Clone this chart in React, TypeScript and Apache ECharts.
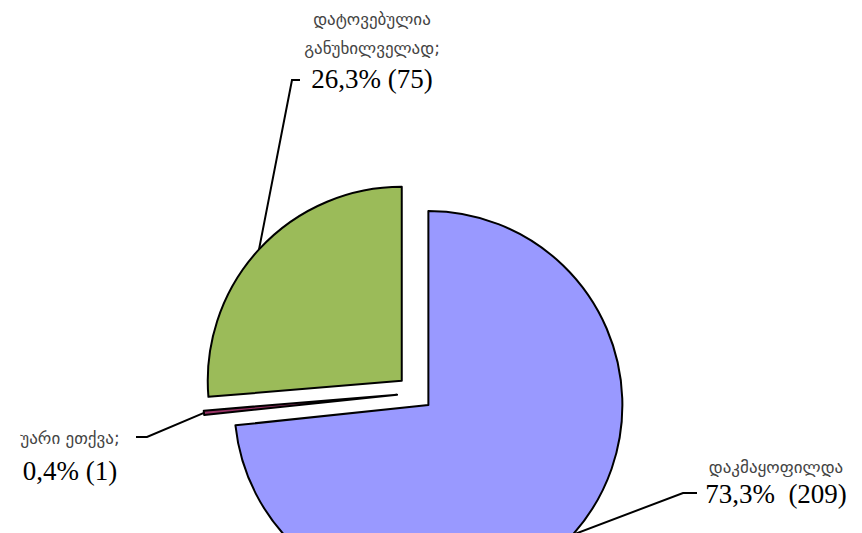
import React, { useEffect, useRef } from 'react';
import * as echarts from 'echarts';

// ---- data ----
const categories = ['დაკმაყოფილდა', 'უარი ეთქვა;', 'დატოვებულია\nგანუხილველად;'];
const counts = [209, 1, 75];
const valueGaps = ['  ', ' ', ' '];

// ---- styles / layout ----
const colors = ['#9999FF', '#993366', '#9BBB59'];
const pieCenter = [415, 393];
const pieRadius = 194;
const explode = 18;
const labelPlacement = [
  { x: 776, y: 481, bend: [683, 493], end: [697, 493], nLH: 26, vLH: 28 },
  { x: 70, y: 455, bend: [147, 437], end: [136, 437], nLH: 32, vLH: 34 },
  { x: 372, y: 50, bend: [292, 80], end: [300, 80], nLH: 29, vLH: 34 },
];

const total = counts.reduce((a, b) => a + b, 0);
const pct = (v: number) => (Math.round((v / total) * 1000) / 10).toFixed(1).replace('.', ',');

export default function App() {
  const ref = useRef<HTMLDivElement>(null);
  useEffect(() => {
    if (!ref.current) return;
    const chart = echarts.init(ref.current, undefined, { renderer: 'svg' });

    let cum = 0;
    const series = counts.map((v, i) => {
      const midFrac = (cum + v / 2) / total;
      cum += v;
      const theta = ((90 - midFrac * 360) * Math.PI) / 180;
      const cx = pieCenter[0] + explode * Math.cos(theta);
      const cy = pieCenter[1] - explode * Math.sin(theta);
      const lp = labelPlacement[i];
      const data = counts.map((w, j) =>
        j === i
          ? {
              value: w,
              name: categories[j],
              itemStyle: { color: colors[j], borderColor: '#000', borderWidth: 2 },
              label: {
                show: true,
                formatter: () =>
                  categories[j]
                    .split('\n')
                    .map((s) => `{n|${s}}`)
                    .join('\n') + `\n{v|${pct(w)}%${valueGaps[j]}(${w})}`,
                rich: {
                  n: {
                    fontFamily: 'DejaVu Sans',
                    fontSize: 17,
                    color: '#444',
                    lineHeight: lp.nLH,
                    align: 'center',
                  },
                  v: {
                    fontFamily: 'Liberation Serif',
                    fontSize: 27,
                    color: '#000',
                    lineHeight: lp.vLH,
                    align: 'center',
                  },
                },
              },
              labelLine: { show: true },
            }
          : {
              value: w,
              name: categories[j],
              itemStyle: { color: 'rgba(0,0,0,0)', borderWidth: 0 },
              label: { show: false },
              labelLine: { show: false },
            }
      );
      return {
        type: 'pie',
        silent: true,
        center: [cx, cy],
        radius: pieRadius,
        startAngle: 90,
        clockwise: true,
        avoidLabelOverlap: false,
        data,
        emphasis: { disabled: true },
        label: { position: 'outside' },
        labelLine: {
          length: 20,
          length2: 10,
          lineStyle: { color: '#000', width: 2 },
        },
        labelLayout: (p: any) => {
          if (p.dataIndex !== i) return {};
          const start = p.labelLinePoints ? p.labelLinePoints[0] : lp.bend;
          return {
            x: lp.x,
            y: lp.y,
            align: 'center',
            verticalAlign: 'middle',
            labelLinePoints: [start, lp.bend, lp.end],
          };
        },
      };
    });

    chart.setOption({
      animation: false,
      backgroundColor: '#ffffff',
      series,
    });
    return () => chart.dispose();
  }, []);
  return (
    <div
      ref={ref}
      style={{ position: 'fixed', left: 0, top: 0, width: 862, height: 533 }}
    />
  );
}
